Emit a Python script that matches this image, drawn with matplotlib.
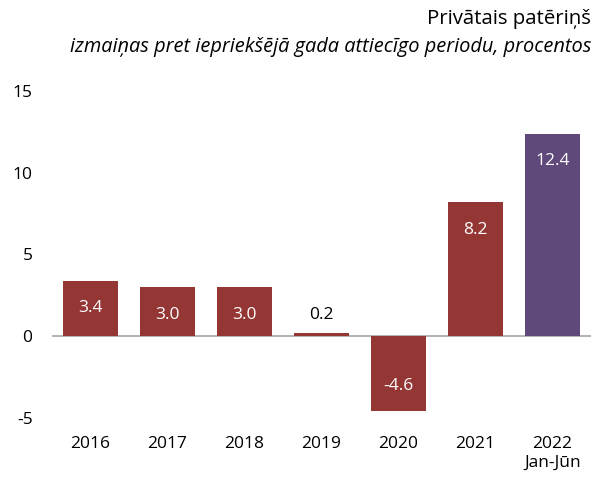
import matplotlib
matplotlib.use("Agg")
import matplotlib.pyplot as plt

categories = ["2016", "2017", "2018", "2019", "2020", "2021", "2022\nJan-Jūn"]
values = [3.4, 3.0, 3.0, 0.2, -4.6, 8.2, 12.4]
labels = ["3.4", "3.0", "3.0", "0.2", "-4.6", "8.2", "12.4"]
yticks = [-5, 0, 5, 10, 15]
title = "Privātais patēriņš"
subtitle = "izmaiņas pret iepriekšējā gada attiecīgo periodu, procentos"

red = "#943634"
purple = "#5F497A"
colors = [red] * 6 + [purple]

plt.rcParams['font.family'] = ['Open Sans', 'DejaVu Sans']

fig = plt.figure(figsize=(6.03, 4.79), dpi=100)
ax = fig.add_axes([52/603, 1-418/479, (591-52)/603, (418-91)/479])

x = list(range(len(categories)))
bars = ax.bar(x, values, width=0.714, color=colors, zorder=2)
ax.axhline(0, color="#a6a6a6", lw=1.2, zorder=1)

for xi, v, lab, b in zip(x, values, labels, bars):
    if abs(v) < 1:
        ax.annotate(lab, (xi, v), xytext=(0, 13), textcoords="offset points",
                    ha="center", va="center", fontsize=12.5, color="black")
    else:
        off = -20 if v > 0 else 18
        ax.annotate(lab, (xi, v), xytext=(0, off), textcoords="offset points",
                    ha="center", va="center", fontsize=12.5, color="white")

ax.set_xlim(-0.5, 6.5)
ax.set_ylim(-5, 15)
ax.set_yticks(yticks)
ax.set_yticklabels([str(t) for t in yticks], fontsize=12.5)
ax.set_xticks(x)
ax.set_xticklabels(categories, fontsize=12.5, linespacing=1.25, va="top")
ax.tick_params(axis="both", length=0)
ax.tick_params(axis="y", pad=14)
ax.tick_params(axis="x", pad=13)
for s in ax.spines.values():
    s.set_visible(False)

fig.text(591/603, 1-19/479, title, ha="right", va="center", fontsize=14.7)
fig.text(591/603, 1-47/479, subtitle, ha="right", va="center", fontsize=14.4, style="italic")

fig.savefig("out.png", dpi=100)
